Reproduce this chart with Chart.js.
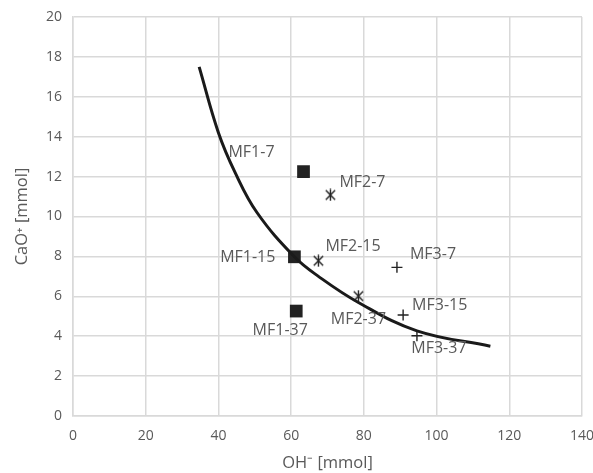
<!DOCTYPE html>
<html>
<head>
<meta charset="utf-8">
<script src="https://cdn.jsdelivr.net/npm/chart.js@4"></script>
<style>
  html, body { margin: 0; padding: 0; background: #fff; }
  #wrap { width: 593px; height: 473px; }
</style>
</head>
<body>
<div id="wrap"><canvas id="myChart"></canvas></div>
<script>
  // samples: MF1 / MF2 / MF3 at 7, 15, 37
  const mf1Labels = ['MF1-7', 'MF1-15', 'MF1-37'];
  const mf1X = [63.4, 60.9, 61.4];
  const mf1Y = [12.25, 7.98, 5.26];

  const mf2Labels = ['MF2-7', 'MF2-15', 'MF2-37'];
  const mf2X = [70.8, 67.5, 78.5];
  const mf2Y = [11.08, 7.78, 6.01];

  const mf3Labels = ['MF3-7', 'MF3-15', 'MF3-37'];
  const mf3X = [89.1, 90.8, 94.6];
  const mf3Y = [7.45, 5.06, 4.02];

  // trend curve
  const curveX = [34.7, 40, 44.6, 50.6, 60.9, 67.5, 78.5, 94.6, 114.8];
  const curveY = [17.5, 14.2, 12.2, 10.2, 7.98, 7.0, 5.69, 4.27, 3.5];

  const xTicks = [0, 20, 40, 60, 80, 100, 120, 140];
  const yTicks = [0, 2, 4, 6, 8, 10, 12, 14, 16, 18, 20];

  const toPts = (xs, ys) => xs.map((x, i) => ({ x: x, y: ys[i] }));

  // asterisk marker (X with vertical bar)
  function starMarker(size) {
    const c = document.createElement('canvas');
    c.width = size; c.height = size;
    const g = c.getContext('2d');
    g.strokeStyle = '#222';
    g.lineWidth = 1.4;
    const m = size / 2, r = size / 2 - 0.5;
    const d = r * 0.78;
    g.beginPath();
    g.moveTo(m - d, m - d); g.lineTo(m + d, m + d);
    g.moveTo(m + d, m - d); g.lineTo(m - d, m + d);
    g.moveTo(m, m - r); g.lineTo(m, m + r);
    g.stroke();
    return c;
  }

  // label offsets from the point (dx, dy, align)
  const labelPos = {
    'MF1-7': [-52, -19, 'center'], 'MF1-15': [-19, 1, 'right'], 'MF1-37': [-16, 19, 'center'],
    'MF2-7': [9, -13, 'left'], 'MF2-15': [7, -14, 'left'], 'MF2-37': [0, 23, 'center'],
    'MF3-7': [13, -13, 'left'], 'MF3-15': [9, -10, 'left'], 'MF3-37': [22, 13, 'center']
  };

  const pointLabels = {
    id: 'pointLabels',
    afterDatasetsDraw(chart) {
      const ctx = chart.ctx;
      ctx.save();
      ctx.font = '16px "Open Sans"';
      ctx.fillStyle = '#595959';
      ctx.textBaseline = 'middle';
      chart.data.datasets.forEach((ds, di) => {
        if (!ds.names) return;
        chart.getDatasetMeta(di).data.forEach((el, i) => {
          const p = labelPos[ds.names[i]];
          ctx.textAlign = p[2];
          ctx.fillText(ds.names[i], el.x + p[0], el.y + p[1]);
        });
      });
      ctx.restore();
    }
  };

  const ctx = document.getElementById('myChart');

  new Chart(ctx, {
    type: 'scatter',
    data: {
      datasets: [
        {
          label: 'curve',
          data: toPts(curveX, curveY),
          showLine: true,
          borderColor: '#1a1a1a',
          borderWidth: 3,
          pointRadius: 0,
          tension: 0.4,
          fill: false
        },
        {
          label: 'MF1',
          names: mf1Labels,
          data: toPts(mf1X, mf1Y),
          pointStyle: 'rect',
          pointRadius: 9,
          backgroundColor: '#222',
          borderColor: '#222',
          borderWidth: 0
        },
        {
          label: 'MF2',
          names: mf2Labels,
          data: toPts(mf2X, mf2Y),
          pointStyle: starMarker(13)
        },
        {
          label: 'MF3',
          names: mf3Labels,
          data: toPts(mf3X, mf3Y),
          pointStyle: 'cross',
          pointRadius: 5.5,
          borderColor: '#222',
          borderWidth: 1.4
        }
      ]
    },
    options: {
      responsive: true,
      maintainAspectRatio: false,
      animation: false,
      layout: { padding: 0 },
      plugins: {
        legend: { display: false },
        tooltip: { enabled: false }
      },
      scales: {
        x: {
          type: 'linear',
          min: 0, max: 140,
          afterBuildTicks: (axis) => { axis.ticks = xTicks.map(v => ({ value: v })); },
          afterFit: (axis) => { axis.height = 57; axis.paddingRight = 11; },
          grid: { color: '#d9d9d9', lineWidth: 1.5, drawTicks: false },
          border: { color: '#d9d9d9', width: 1.5 },
          ticks: { color: '#595959', font: { family: 'Open Sans', size: 14 }, padding: 12 },
          title: { display: true, text: 'OH⁻ [mmol]', color: '#595959', font: { family: 'Open Sans', size: 16.5 }, padding: { top: 0, bottom: 0 } }
        },
        y: {
          type: 'linear',
          min: 0, max: 20,
          afterBuildTicks: (axis) => { axis.ticks = yTicks.map(v => ({ value: v })); },
          afterFit: (axis) => { axis.width = 73; axis.paddingTop = 17; },
          grid: { color: '#d9d9d9', lineWidth: 1.5, drawTicks: false },
          border: { color: '#d9d9d9', width: 1.5 },
          ticks: { color: '#595959', font: { family: 'Open Sans', size: 14 }, padding: 11 },
          title: { display: true, text: 'CaO⁺ [mmol]', color: '#595959', font: { family: 'Open Sans', size: 16.5 }, padding: { top: 12, bottom: 0 } }
        }
      }
    },
    plugins: [pointLabels]
  });
</script>
</body>
</html>
